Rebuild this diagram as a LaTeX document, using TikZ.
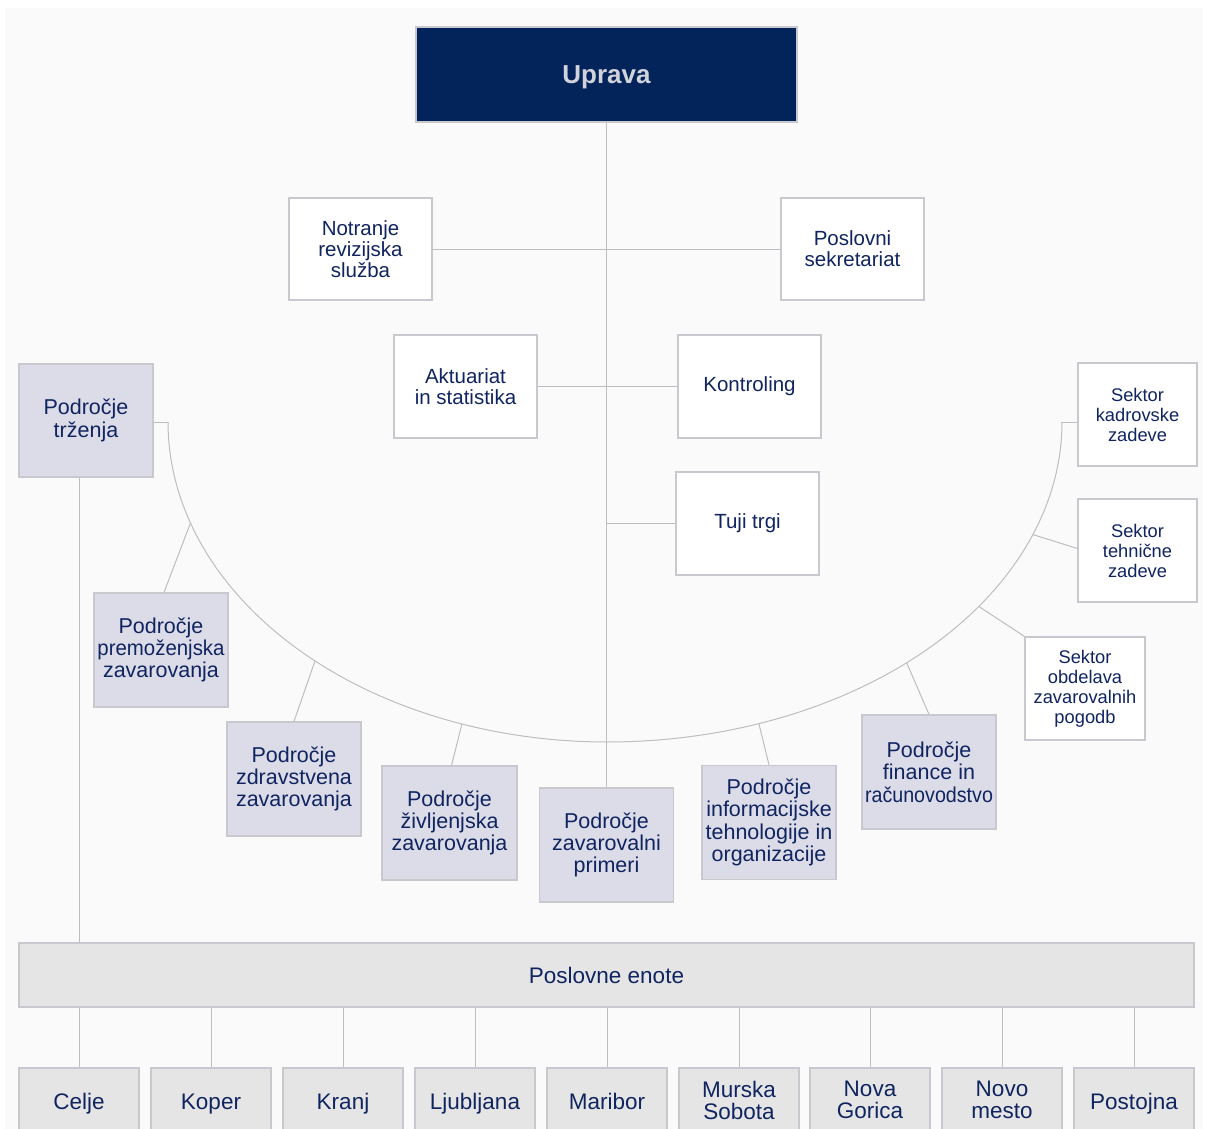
\documentclass[tikz,border=0pt]{standalone}
\usepackage{fontspec}
\setmainfont{Liberation Sans}
\usetikzlibrary{calc}
\definecolor{navy}{RGB}{3,36,90}
\definecolor{txtcol}{RGB}{16,36,96}
\definecolor{lav}{RGB}{220,220,232}
\definecolor{pegray}{RGB}{229,229,229}
\definecolor{bordercol}{RGB}{200,200,206}
\definecolor{linecol}{RGB}{190,190,194}
\definecolor{bgcol}{RGB}{250,250,250}
\definecolor{uprtxt}{RGB}{208,211,218}
\tikzset{
 base/.style={draw=bordercol, line width=1.2pt, align=center, inner sep=0pt, text=txtcol},
 wbox/.style={base, fill=white, minimum width=143pt, minimum height=103pt, font=\fontsize{20.5}{21}\selectfont},
 lbox/.style={base, fill=lav, minimum width=134pt, minimum height=114pt, font=\fontsize{21.5}{22.3}\selectfont},
 sbox/.style={base, fill=white, minimum width=120pt, minimum height=103pt, font=\fontsize{18.3}{20}\selectfont},
 cbox/.style={base, fill=pegray, minimum width=120pt, minimum height=68pt, font=\fontsize{22.5}{22}\selectfont},
 onel/.style={text height=17pt, text depth=3pt},
 twol/.style={text depth=4pt},
 conn/.style={draw=linecol, line width=1pt},
}
\begin{document}
\begin{tikzpicture}[x=1pt,y=-1pt]
\path[use as bounding box, clip] (0,0) rectangle (1205,1129);
\fill[white] (0,0) rectangle (1205,1129);
\fill[bgcol] (5,8) rectangle (1203,1129);

% arc
\coordinate (L) at (168,422);
\coordinate (R) at (1061,422);
\draw[conn, domain=180:270, samples=120, smooth] plot ({607+439*cos(\x)},{422-320*sin(\x)});
\draw[conn, domain=270:360, samples=120, smooth] plot ({607+455*cos(\x)},{422-320*sin(\x)});
\coordinate (a1) at ({607+439*cos(198.4)},{422-320*sin(198.4)});
\coordinate (a2) at ({607+439*cos(228.3)},{422-320*sin(228.3)});
\coordinate (a3) at ({607+439*cos(250.7)},{422-320*sin(250.7)});
\coordinate (a4) at ({607+455*cos(289.5)},{422-320*sin(289.5)});
\coordinate (a5) at ({607+455*cos(311.2)},{422-320*sin(311.2)});
\coordinate (a6) at ({607+455*cos(324.8)},{422-320*sin(324.8)});
\coordinate (a7) at ({607+455*cos(339.4)},{422-320*sin(339.4)});

% nodes
\node[base, fill=navy, draw=bordercol, minimum width=381pt, minimum height=95pt, text=uprtxt, font=\fontsize{26}{28}\selectfont\bfseries, text height=19pt, text depth=0pt] (upr) at (606.5,74.5) {Uprava};
\node[wbox, minimum height=102pt] (notr) at (360.5,249) {Notranje\\revizijska\\služba};
\node[wbox, minimum height=102pt] (posl) at (852.5,249) {Poslovni\\sekretariat};
\node[wbox] (akt) at (465.5,386.5) {Aktuariat\\in statistika};
\node[wbox] (kont) at (749.5,386.5) {Kontroling};
\node[wbox] (tuji) at (747.5,523.5) {Tuji trgi};
\node[lbox, minimum height=113pt] (trz) at (86,420.5) {Področje\\trženja};
\node[sbox, minimum width=119pt] (kad) at (1137.5,414.5) {Sektor\\kadrovske\\zadeve};
\node[sbox, minimum width=119pt] (teh) at (1137.5,550.5) {Sektor\\tehnične\\zadeve};
\node[sbox] (obd) at (1085,688.5) {Sektor\\obdelava\\zavarovalnih\\pogodb};
\node[lbox] (fin) at (929,772) {Področje\\finance in\\\scalebox{0.915}[1]{računovodstvo}};
\node[lbox] (inf) at (769,822.5) {Področje\\informacijske\\tehnologije in\\organizacije};
\node[lbox] (zav) at (606.5,845) {Področje\\zavarovalni\\primeri};
\node[lbox, minimum width=135pt] (ziv) at (449.5,823) {Področje\\življenjska\\zavarovanja};
\node[lbox] (zdr) at (294,779) {Področje\\zdravstvena\\zavarovanja};
\node[lbox] (prem) at (161,650) {Področje\\\scalebox{0.95}[1]{premoženjska}\\zavarovanja};
\node[base, fill=pegray, minimum width=1175pt, minimum height=64pt, font=\fontsize{22.5}{24}\selectfont] (pe) at (606.5,975) {Poslovne enote};

\node[cbox, onel] (c1) at (79,1102) {Celje};
\node[cbox, onel] (c2) at (211,1102) {Koper};
\node[cbox, onel] (c3) at (343,1102) {Kranj};
\node[cbox, onel] (c4) at (475,1102) {Ljubljana};
\node[cbox, onel] (c5) at (607,1102) {Maribor};
\node[cbox, twol] (c6) at (739,1102) {Murska\\Sobota};
\node[cbox, twol] (c7) at (870,1102) {Nova\\Gorica};
\node[cbox, twol] (c8) at (1002,1102) {Novo\\mesto};
\node[cbox, onel] (c9) at (1134,1102) {Postojna};

% connectors
\draw[conn] (upr.south) -- (zav.north);
\draw[conn] (notr.east) -- (posl.west);
\draw[conn] (akt.east) -- (kont.west);
\draw[conn] (upr.south |- tuji.west) -- (tuji.west);
\draw[conn] (trz.east |- L) -- (L);
\draw[conn] (R) -- (kad.west |- R);
\draw[conn] (a1) -- ($(prem.north)+(3,0)$);
\draw[conn] (a2) -- (zdr.north);
\draw[conn] (a3) -- ($(ziv.north)+(2,0)$);
\draw[conn] (a4) -- (inf.north);
\draw[conn] (a5) -- (fin.north);
\draw[conn] (a6) -- (obd.north west);
\draw[conn] (a7) -- ($(teh.west)+(0,-2)$);
\draw[conn] (trz.south -| c1.north) -- (pe.north -| c1.north);
\foreach \c in {c1,c2,c3,c4,c5,c6,c7,c8,c9}{
  \draw[conn] (pe.south -| \c.north) -- (\c.north);
}
\end{tikzpicture}
\end{document}
